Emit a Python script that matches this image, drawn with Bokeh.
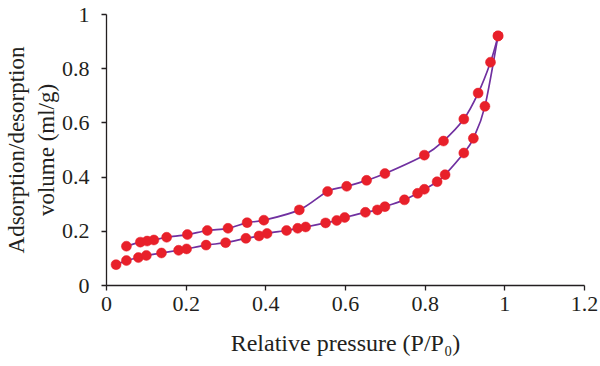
from bokeh.plotting import figure
from bokeh.embed import file_html
from bokeh.resources import INLINE
from bokeh.models import FixedTicker, Range1d

# Adsorption branch (lower curve)
ads_x = [0.024, 0.050, 0.080, 0.100, 0.138, 0.181, 0.201, 0.250, 0.299, 0.350,
         0.383, 0.403, 0.452, 0.480, 0.500, 0.550, 0.578, 0.598, 0.650, 0.680,
         0.699, 0.748, 0.781, 0.798, 0.830, 0.850, 0.897, 0.921, 0.950, 0.983]
ads_y = [0.077, 0.092, 0.103, 0.111, 0.120, 0.130, 0.135, 0.149, 0.158, 0.174,
         0.183, 0.192, 0.203, 0.211, 0.216, 0.231, 0.240, 0.251, 0.270, 0.279,
         0.291, 0.316, 0.340, 0.355, 0.383, 0.409, 0.489, 0.543, 0.661, 0.921]

# Desorption branch (upper curve)
des_x = [0.050, 0.085, 0.102, 0.119, 0.151, 0.203, 0.253, 0.305, 0.353, 0.395,
         0.484, 0.555, 0.603, 0.653, 0.699, 0.798, 0.846, 0.897, 0.933, 0.964, 0.983]
des_y = [0.145, 0.160, 0.164, 0.168, 0.178, 0.188, 0.203, 0.211, 0.232, 0.241,
         0.279, 0.347, 0.366, 0.388, 0.413, 0.481, 0.533, 0.614, 0.710, 0.824, 0.921]

x_ticks = [0, 0.2, 0.4, 0.6, 0.8, 1, 1.2]
y_ticks = [0, 0.2, 0.4, 0.6, 0.8, 1]

LINE = "#7030a0"
DOT = "#e8202a"
FONT = "Liberation Serif"

p = figure(width=600, height=366, output_backend="svg", toolbar_location=None,
           x_range=Range1d(0, 1.2), y_range=Range1d(0, 1),
           min_border_left=106, min_border_right=16, min_border_top=14, min_border_bottom=81)
p.outline_line_color = None
p.grid.visible = False
p.background_fill_color = "white"
p.border_fill_color = "white"


def bezier_segments(xs, ys):
    """Catmull-Rom style smoothing expressed as cubic Bezier segments."""
    n = len(xs)
    x0, y0, x1, y1, cx0, cy0, cx1, cy1 = [], [], [], [], [], [], [], []
    for i in range(n - 1):
        xa, ya = xs[i], ys[i]
        xb, yb = xs[i + 1], ys[i + 1]
        xp, yp = (xs[i - 1], ys[i - 1]) if i > 0 else (xa, ya)
        xn, yn = (xs[i + 2], ys[i + 2]) if i + 2 < n else (xb, yb)
        x0.append(xa); y0.append(ya); x1.append(xb); y1.append(yb)
        cx0.append(xa + (xb - xp) / 6); cy0.append(ya + (yb - yp) / 6)
        cx1.append(xb - (xn - xa) / 6); cy1.append(yb - (yn - ya) / 6)
    return dict(x0=x0, y0=y0, x1=x1, y1=y1, cx0=cx0, cy0=cy0, cx1=cx1, cy1=cy1)


for xs, ys in ((ads_x, ads_y), (des_x, des_y)):
    seg = bezier_segments(xs, ys)
    p.bezier(x0="x0", y0="y0", x1="x1", y1="y1", cx0="cx0", cy0="cy0",
             cx1="cx1", cy1="cy1", source=seg, line_color=LINE, line_width=1.7)

for xs, ys in ((ads_x, ads_y), (des_x, des_y)):
    p.scatter(xs, ys, size=10, fill_color=DOT, line_color=DOT, line_width=0.5)

for ax in (p.xaxis[0], p.yaxis[0]):
    ax.axis_line_color = "#231f20"
    ax.axis_line_width = 1.3
    ax.major_tick_line_color = "#231f20"
    ax.major_tick_line_width = 1.3
    ax.major_tick_out = 5
    ax.major_tick_in = 0
    ax.minor_tick_line_color = None
    ax.major_label_text_font = FONT
    ax.major_label_text_font_size = "22px"
    ax.major_label_text_color = "#231f20"
    ax.axis_label_text_font = FONT
    ax.axis_label_text_font_style = "normal"
    ax.axis_label_text_color = "#231f20"

p.xaxis.axis_label_text_font_size = "24px"
p.yaxis.axis_label_text_font_size = "23px"
p.xaxis.ticker = FixedTicker(ticks=x_ticks)
p.yaxis.ticker = FixedTicker(ticks=y_ticks)
p.xaxis.major_label_overrides = {0: "0", 1: "1"}
p.yaxis.major_label_overrides = {0: "0", 1: "1"}
p.xaxis.major_label_standoff = 6
p.yaxis.major_label_standoff = 12
p.xaxis.axis_label = "Relative pressure (P/P\u2080)"
p.yaxis.axis_label = "Adsorption/desorption\nvolume (ml/g)"
p.xaxis.axis_label_standoff = 16
p.yaxis.axis_label_standoff = 0

open("out.html", "w").write(file_html(p, INLINE))
